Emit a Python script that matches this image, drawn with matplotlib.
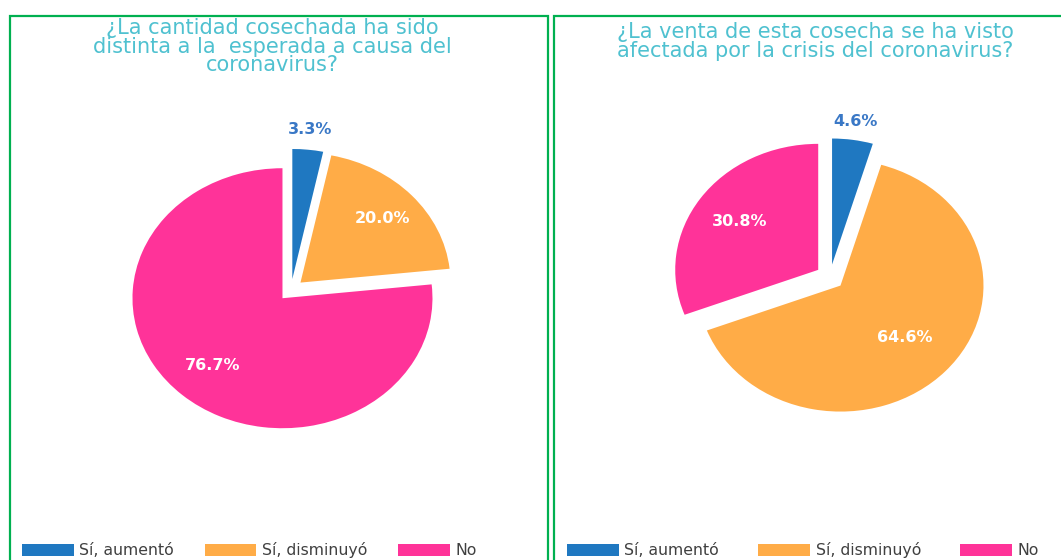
import matplotlib.pyplot as plt
from matplotlib.patches import Rectangle
import numpy as np

# data
categories = ["Sí, aumentó", "Sí, disminuyó", "No"]
cantidad = [3.3, 20.0, 76.7]
venta = [4.6, 64.6, 30.8]
title_left = "¿La cantidad cosechada ha sido\ndistinta a la  esperada a causa del\ncoronavirus?"
title_right = "¿La venta de esta cosecha se ha visto\nafectada por la crisis del coronavirus?"

colors = ["#1f78c1", "#ffac47", "#ff3399"]
title_color = "#4fc1d0"
border_color = "#00b050"

W, H = 1061, 560


def px_axes(fig, cx, cy, rx, ry):
    # axes with limits +-1.5 so that radius 1 maps to rx, ry pixels
    w, h = 3 * rx, 3 * ry
    ax = fig.add_axes([(cx - w / 2) / W, (H - cy - h / 2) / H, w / W, h / H])
    return ax


def draw_pie(ax, values, explode, dists):
    wedges, _ = ax.pie(values, colors=colors, startangle=90, counterclock=False,
                       explode=explode, wedgeprops=dict(linewidth=0))
    ax.set_aspect("auto")
    ax.set_xlim(-1.5, 1.5)
    ax.set_ylim(-1.5, 1.5)
    ax.axis("off")

    # percentage labels
    for i, w in enumerate(wedges):
        ang = np.deg2rad((w.theta1 + w.theta2) / 2)
        cx, cy = w.center
        x = cx + dists[i] * np.cos(ang)
        y = cy + dists[i] * np.sin(ang)
        col = "#3a78c6" if i == 0 else "white"
        ax.text(x, y, "%.1f%%" % values[i], ha="center", va="center",
                fontsize=11.5, fontweight="bold", color=col)
    return wedges


fig = plt.figure(figsize=(W / 100, H / 100), dpi=100)

# panel borders
fig.patches.append(Rectangle((10 / W, -0.1), 538 / W, 1.1 - 16 / H,
                             transform=fig.transFigure, fill=False,
                             edgecolor=border_color, linewidth=1.6))
fig.patches.append(Rectangle((554 / W, -0.1), 520 / W, 1.1 - 16 / H,
                             transform=fig.transFigure, fill=False,
                             edgecolor=border_color, linewidth=1.6))

# titles
fig.text(272 / W, 1 - 18 / H, title_left, ha="center", va="top", fontsize=15,
         color=title_color, linespacing=0.92)
fig.text(815 / W, 1 - 22 / H, title_right, ha="center", va="top", fontsize=15,
         color=title_color, linespacing=0.92)

# left pie
ax1 = px_axes(fig, 291, 290, 150, 130)
w1 = draw_pie(ax1, cantidad, [0.085, 0.085, 0.085], [1.16, 0.735, 0.7])

# right pie
ax2 = px_axes(fig, 830, 277, 143, 126)
w2 = draw_pie(ax2, venta, [0.1, 0.1, 0.1], [1.15, 0.61, 0.67])

# legends
for wedges, x0, cs in [(w1, 22, 1.95), (w2, 567, 2.5)]:
    fig.legend(wedges, categories, loc="center left", ncol=3,
               bbox_to_anchor=(x0 / W, 10 / H), frameon=False, fontsize=11.3,
               handlelength=3.3, handleheight=0.8, handletextpad=0.35,
               columnspacing=cs, borderpad=0, borderaxespad=0,
               labelcolor="#404040")

fig.savefig("out.png", dpi=100)
